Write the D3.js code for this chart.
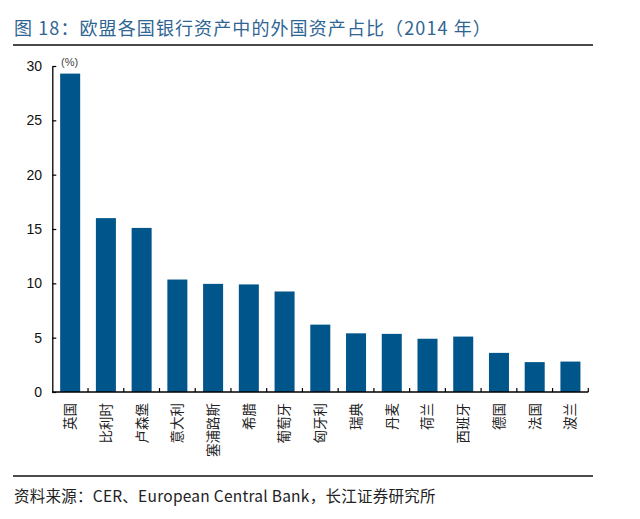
<!DOCTYPE html>
<html>
<head>
<meta charset="utf-8">
<script src="https://cdn.jsdelivr.net/npm/d3@7"></script>
<style>
  body { margin: 0; background: #fff; }
  svg { display: block; }
  text { font-family: "Liberation Sans", Arial, sans-serif; }
  .cjk { font-family: "Noto Sans CJK SC", "Noto Sans", sans-serif; }
</style>
</head>
<body>
<svg id="chart" width="640" height="519"></svg>
<script>
// data
var countries = ['英国','比利时','卢森堡','意大利','塞浦路斯','希腊','葡萄牙','匈牙利','瑞典','丹麦','荷兰','西班牙','德国','法国','波兰'];
var shares = [29.3, 16.0, 15.1, 10.35, 9.95, 9.9, 9.25, 6.2, 5.4, 5.35, 4.9, 5.1, 3.6, 2.75, 2.8];
var yTicks = [0, 5, 10, 15, 20, 25, 30];

(function() {
var svg = d3.select('#chart');
var plotL = 52.3, plotR = 588.3, plotT = 66, plotB = 392;

var x = d3.scaleBand().domain(countries).range([plotL, plotR]).paddingInner(0.44).paddingOuter(0.22);
var y = d3.scaleLinear().domain([0, 30]).range([plotB, plotT]);

// title
svg.append('text')
    .attr('class', 'cjk')
    .attr('x', 14).attr('y', 35)
    .attr('fill', '#2f6593')
    .style('font-size', '18px')
    .style('letter-spacing', '1.1px')
    .text('图 18：欧盟各国银行资产中的外国资产占比（2014 年）');
svg.append('line')
    .attr('x1', 13).attr('x2', 593).attr('y1', 45).attr('y2', 45)
    .attr('stroke', '#4a4a4a').attr('stroke-width', 2.2);

// bars
svg.selectAll('.bar')
    .data(countries)
    .enter().append('rect')
    .attr('class', 'bar')
    .attr('x', function(d) { return x(d); })
    .attr('width', x.bandwidth())
    .attr('y', function(d, i) { return y(shares[i]); })
    .attr('height', function(d, i) { return plotB - y(shares[i]); })
    .attr('fill', '#00558b');

// y axis, ticks pointing inward
var yAxis = svg.append('g')
    .attr('transform', 'translate(' + plotL + ',0)')
    .call(d3.axisRight(y).tickValues(yTicks).tickSize(4).tickSizeOuter(0).tickFormat(''));
yAxis.select('.domain').attr('stroke', '#000').attr('stroke-width', 1.3);
yAxis.selectAll('.tick line').attr('stroke', '#000').attr('stroke-width', 1.2);

svg.selectAll('.ylab')
    .data(yTicks)
    .enter().append('text')
    .attr('class', 'ylab')
    .attr('x', 42)
    .attr('y', function(d) { return y(d); })
    .attr('dy', '0.36em')
    .attr('text-anchor', 'end')
    .attr('fill', '#111')
    .style('font-size', '14px')
    .text(function(d) { return d; });

svg.append('text')
    .attr('x', 61).attr('y', 66)
    .attr('fill', '#444')
    .style('font-size', '11px')
    .text('(%)');

// x axis with ticks at band boundaries, pointing up
svg.append('line')
    .attr('x1', plotL).attr('x2', plotR).attr('y1', plotB).attr('y2', plotB)
    .attr('stroke', '#000').attr('stroke-width', 1.3);
var bounds = countries.map(function(d, i) { return plotL + (i + 1) * (plotR - plotL) / countries.length; });
svg.selectAll('.xtick')
    .data(bounds)
    .enter().append('line')
    .attr('class', 'xtick')
    .attr('x1', function(d) { return d; }).attr('x2', function(d) { return d; })
    .attr('y1', plotB).attr('y2', plotB - 4)
    .attr('stroke', '#000').attr('stroke-width', 1.2);

// rotated category labels, reading bottom to top
svg.selectAll('.xlab')
    .data(countries)
    .enter().append('text')
    .attr('class', 'xlab cjk')
    .attr('transform', function(d) {
        return 'translate(' + (x(d) + x.bandwidth() / 2) + ',403) rotate(-90)';
    })
    .attr('dy', '0.36em')
    .attr('text-anchor', 'end')
    .attr('fill', '#222')
    .style('font-size', '13.5px')
    .text(function(d) { return d; });

// footer
svg.append('line')
    .attr('x1', 13).attr('x2', 593).attr('y1', 476).attr('y2', 476)
    .attr('stroke', '#111').attr('stroke-width', 1.5);
svg.append('text')
    .attr('class', 'cjk')
    .attr('x', 14).attr('y', 502)
    .attr('fill', '#222')
    .style('font-size', '15.5px')
    .style('letter-spacing', '0.25px')
    .text('资料来源：CER、European Central Bank，长江证券研究所');
})();
</script>
</body>
</html>
